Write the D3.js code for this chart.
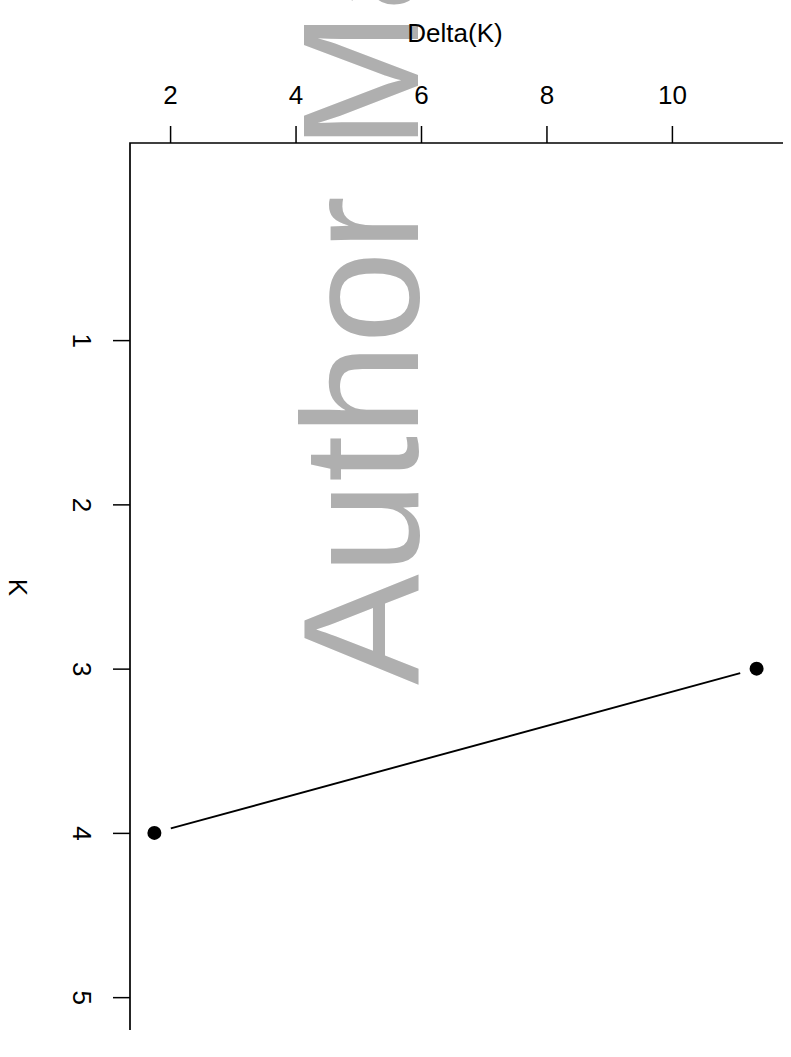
<!DOCTYPE html>
<html>
<head>
<meta charset="utf-8">
<script src="https://cdn.jsdelivr.net/npm/d3@7"></script>
<style>
  html, body { margin: 0; padding: 0; background: #ffffff; }
  svg { display: block; }
  text { font-family: "Liberation Sans", Arial, Helvetica, sans-serif; }
</style>
</head>
<body>
<script>
// Delta(K) statistic for each number of clusters K
const kValues = [3, 4];
const deltaValues = [11.35, 1.75];

const deltaTicks = [2, 4, 6, 8, 10];
const kTicks = [1, 2, 3, 4, 5];

const W = 791, H = 1057;
const FONT = 26;
const svg = d3.select("body").append("svg")
  .attr("width", W).attr("height", H);

// Delta runs left-to-right along the top, K runs top-to-bottom on the left
const x = d3.scaleLinear().domain([1.361, 11.739]).range([130, 781]);
const y = d3.scaleLinear().domain([-0.2, 5.2]).range([143, 1030]);

// Watermark
svg.append("text")
  .attr("transform", "translate(418,685) rotate(-90)")
  .attr("font-size", 166)
  .attr("fill", "#afafaf")
  .text("Author Manuscript");

// Top axis (Delta)
const topAxis = d3.axisTop(x).tickValues(deltaTicks).tickSize(17).tickPadding(22)
  .tickFormat(d3.format("d"));
const gTop = svg.append("g").attr("transform", `translate(0,${y.range()[0]})`).call(topAxis);
gTop.select(".domain").remove();
gTop.selectAll(".tick line").attr("stroke", "#000").attr("stroke-width", 1.5);
gTop.selectAll(".tick text").attr("font-size", FONT).attr("fill", "#000")
  .attr("font-family", "Liberation Sans, Arial, sans-serif");

// Left axis (K), labels rotated to read downward
const leftAxis = d3.axisLeft(y).tickValues(kTicks).tickSize(17).tickFormat(d3.format("d"));
const gLeft = svg.append("g").attr("transform", `translate(${x.range()[0]},0)`).call(leftAxis);
gLeft.select(".domain").remove();
gLeft.selectAll(".tick line").attr("stroke", "#000").attr("stroke-width", 1.5);
gLeft.selectAll(".tick text")
  .attr("font-size", FONT).attr("fill", "#000")
  .attr("font-family", "Liberation Sans, Arial, sans-serif")
  .attr("x", null).attr("dy", null)
  .attr("text-anchor", "middle")
  .attr("transform", "translate(-57,0) rotate(90)");

// L-shaped frame: top and left edges
svg.append("path")
  .attr("d", `M${x.range()[1] + 2},${y.range()[0]}H${x.range()[0]}V${y.range()[1]}`)
  .attr("fill", "none").attr("stroke", "#000").attr("stroke-width", 1.7);

// Axis titles
svg.append("text")
  .attr("x", 455)
  .attr("y", 42)
  .attr("text-anchor", "middle")
  .attr("font-size", FONT)
  .text("Delta(K)");

svg.append("text")
  .attr("transform", `translate(9,${(y.range()[0] + y.range()[1]) / 2 + 1}) rotate(90)`)
  .attr("text-anchor", "middle")
  .attr("font-size", FONT)
  .text("K");

// Points joined by a line with small gaps at each point
const pts = kValues.map((k, i) => ({ px: x(deltaValues[i]), py: y(k) }));
const gap = 17;
for (let i = 0; i < pts.length - 1; i++) {
  const a = pts[i], b = pts[i + 1];
  const dx = b.px - a.px, dy = b.py - a.py;
  const len = Math.hypot(dx, dy);
  const ux = dx / len, uy = dy / len;
  svg.append("line")
    .attr("x1", a.px + ux * gap).attr("y1", a.py + uy * gap)
    .attr("x2", b.px - ux * gap).attr("y2", b.py - uy * gap)
    .attr("stroke", "#000").attr("stroke-width", 1.9);
}

svg.selectAll("circle.pt").data(pts).enter().append("circle")
  .attr("class", "pt")
  .attr("cx", d => d.px).attr("cy", d => d.py)
  .attr("r", 7).attr("fill", "#000");
</script>
</body>
</html>
